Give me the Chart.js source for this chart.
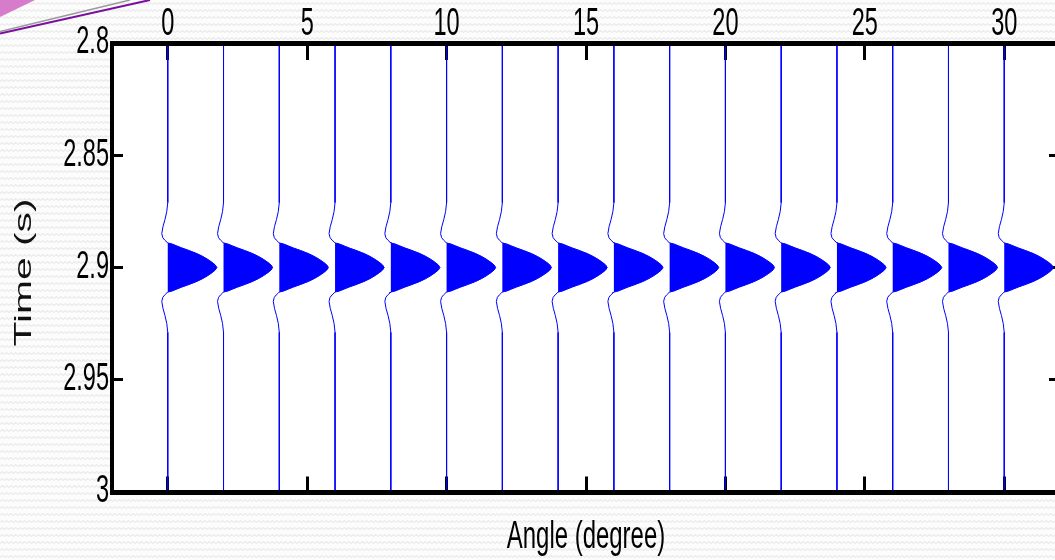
<!DOCTYPE html>
<html>
<head>
<meta charset="utf-8">
<script src="https://cdn.jsdelivr.net/npm/chart.js@4.4.1/dist/chart.umd.min.js"></script>
<style>
html,body{margin:0;padding:0;width:1055px;height:560px;overflow:hidden;}
body{background-color:#fcfcfc;background-image:url("data:image/svg+xml;utf8,<svg xmlns='http://www.w3.org/2000/svg' width='9' height='7'><path d='M0 4.5 L2.25 2.5 L4.5 4.5 L6.75 2.5 L9 4.5' fill='none' stroke='%23ebebeb' stroke-width='1.2'/></svg>");}
#wrap{position:relative;width:1080px;height:560px;}
#deco{position:absolute;left:0;top:0;}
#c{position:absolute;left:0;top:0;}
</style>
</head>
<body>
<div id="wrap">
<svg id="deco" width="200" height="60" xmlns="http://www.w3.org/2000/svg">
  <polygon points="0,0 35,0 0,17" fill="#d77ccb"/>
  <line x1="0" y1="31.5" x2="130" y2="0" stroke="#9a9a9a" stroke-width="1.5"/>
  <line x1="0" y1="33.5" x2="150" y2="0" stroke="#7a0ea0" stroke-width="2"/>
</svg>
<canvas id="c" width="1080" height="560"></canvas>
</div>
<script>
// Trace positions (angle, degrees)
const angles = [0, 2, 4, 6, 8, 10, 12, 14, 16, 18, 20, 22, 24, 26, 28, 30];
// Wavelet samples: time (s) and horizontal deflection (degrees)
const waveletTime = [2.8, 2.8711, 2.8751, 2.8786, 2.8818, 2.8849, 2.8867, 2.8878, 2.8887, 2.8891,
  2.8895, 2.8904, 2.8913, 2.8924, 2.8938, 2.8951, 2.8964, 2.8978, 2.8989, 2.9,
  2.9011, 2.9022, 2.9036, 2.9049, 2.9062, 2.9076, 2.9087, 2.9096, 2.9105, 2.9109,
  2.9113, 2.9122, 2.9133, 2.9151, 2.9182, 2.9214, 2.9249, 2.9289, 3.0];
const waveletAmp = [0, 0, -0.036, -0.100, -0.172, -0.215, -0.179, -0.108, -0.029, 0,
  0.144, 0.323, 0.502, 0.753, 1.041, 1.256, 1.435, 1.597, 1.704, 1.758,
  1.704, 1.597, 1.435, 1.256, 1.041, 0.753, 0.502, 0.323, 0.144, 0,
  -0.029, -0.108, -0.179, -0.215, -0.172, -0.100, -0.036, 0, 0];
// Tick values and labels
const angleTicks = [0, 5, 10, 15, 20, 25, 30];
const angleLabels = ['0', '5', '10', '15', '20', '25', '30'];
const timeTicks = [2.8, 2.85, 2.9, 2.95, 3];
const timeLabels = ['2.8', '2.85', '2.9', '2.95', '3'];

const FONT = "'Liberation Sans', Arial, Helvetica, sans-serif";
const BLUE = '#0000ff';

// central positive lobe indices
let peak = 0;
waveletAmp.forEach((a, i) => { if (a > waveletAmp[peak]) peak = i; });
let lo = peak, hi = peak;
while (lo > 0 && waveletAmp[lo - 1] >= 0 && waveletAmp[lo] > 0) lo--;
while (hi < waveletAmp.length - 1 && waveletAmp[hi + 1] >= 0 && waveletAmp[hi] > 0) hi++;

const datasets = [];
angles.forEach(a => {
  datasets.push({
    data: waveletTime.map((t, i) => ({x: a + waveletAmp[i], y: t})),
    borderColor: BLUE, borderWidth: 1, pointRadius: 0, fill: false
  });
  const lobe = [];
  for (let i = lo; i <= hi; i++) lobe.push({x: a + waveletAmp[i], y: waveletTime[i]});
  datasets.push({
    data: lobe,
    borderColor: BLUE, borderWidth: 0.5, pointRadius: 0,
    backgroundColor: BLUE, fill: {value: a}
  });
});

function setTicks(values) {
  return s => { s.ticks = values.map(v => ({value: v})); };
}
function labelFrom(values, labels) {
  return v => {
    const i = values.findIndex(t => Math.abs(t - v) < 1e-9);
    return i >= 0 ? labels[i] : '';
  };
}

function squeezeText(scale, method, sx, sy, dx, dy) {
  const orig = scale[method];
  scale[method] = function () {
    const ctx = this.ctx;
    const base = CanvasRenderingContext2D.prototype.translate;
    ctx.translate = function (x, y) { base.call(this, x + dx, y + dy); this.scale(sx, sy); };
    try { return orig.apply(this, arguments); } finally { delete ctx.translate; }
  };
}

const textPlugin = {
  id: 'textShape',
  beforeDraw(chart) {
    const sc = chart.scales;
    if (sc.x.__shaped) return;
    sc.x.__shaped = true;
    squeezeText(sc.x, 'drawLabels', 0.62, 1, 0, 0);
    squeezeText(sc.y, 'drawLabels', 0.62, 1, 0, 0);
    squeezeText(sc.x2, 'drawTitle', 0.63, 1, 0, 0);
    squeezeText(sc.y, 'drawTitle', 1, 1.7, 0, 5);
  }
};

const plotBg = {
  id: 'plotBg',
  beforeDraw(chart) {
    const {ctx, chartArea: a} = chart;
    ctx.save();
    ctx.fillStyle = '#ffffff';
    ctx.fillRect(a.left, a.top, a.right - a.left, a.bottom - a.top);
    ctx.restore();
  }
};

const gridCommon = {display: true, drawOnChartArea: true, drawTicks: false, color: '#000', lineWidth: 3};

new Chart(document.getElementById('c'), {
  type: 'line',
  data: {datasets},
  plugins: [plotBg, textPlugin],
  options: {
    responsive: false,
    animation: false,
    events: [],
    indexAxis: 'y',
    layout: {padding: 0},
    plugins: {legend: {display: false}, tooltip: {enabled: false}},
    elements: {point: {radius: 0}, line: {tension: 0}},
    scales: {
      x: {
        type: 'linear', position: 'top', min: -2, max: 32,
        afterBuildTicks: setTicks(angleTicks),
        afterFit: s => { s.height = 43; },
        ticks: {color: '#000', font: {family: FONT, size: 38}, padding: -4, maxRotation: 0, autoSkip: false,
                callback: labelFrom(angleTicks, angleLabels)},
        grid: gridCommon,
        border: {display: true, color: '#000', width: 5, z: 1, dash: [14, 3000]}
      },
      x2: {
        type: 'linear', position: 'bottom', min: -2, max: 32,
        afterBuildTicks: setTicks(angleTicks),
        afterFit: s => { s.height = 68; },
        ticks: {display: false},
        grid: gridCommon,
        border: {display: true, color: '#000', width: 5, z: 1, dash: [0, 433.5, 14, 3000]},
        title: {display: true, text: 'Angle (degree)', color: '#000', font: {family: FONT, size: 38}, padding: {top: 0, bottom: 0}}
      },
      y: {
        type: 'linear', position: 'left', reverse: true, min: 2.8, max: 3,
        afterBuildTicks: setTicks(timeTicks),
        afterFit: s => { s.width = 112; },
        ticks: {color: '#000', font: {family: FONT, size: 38}, padding: 3, autoSkip: false,
                callback: labelFrom(timeTicks, timeLabels)},
        grid: gridCommon,
        border: {display: true, color: '#000', width: 4, z: 1, dash: [9, 3000]},
        title: {display: true, text: 'Time (s)', color: '#111', font: {family: FONT, size: 24}, padding: {top: 10, bottom: 0}}
      },
      y2: {
        type: 'linear', position: 'right', reverse: true, min: 2.8, max: 3,
        afterBuildTicks: setTicks(timeTicks),
        afterFit: s => { s.width = 20; },
        ticks: {display: false},
        grid: gridCommon,
        border: {display: true, color: '#000', width: 4, z: 1, dash: [0, 937, 9, 3000]}
      }
    }
  }
});
</script>
</body>
</html>
